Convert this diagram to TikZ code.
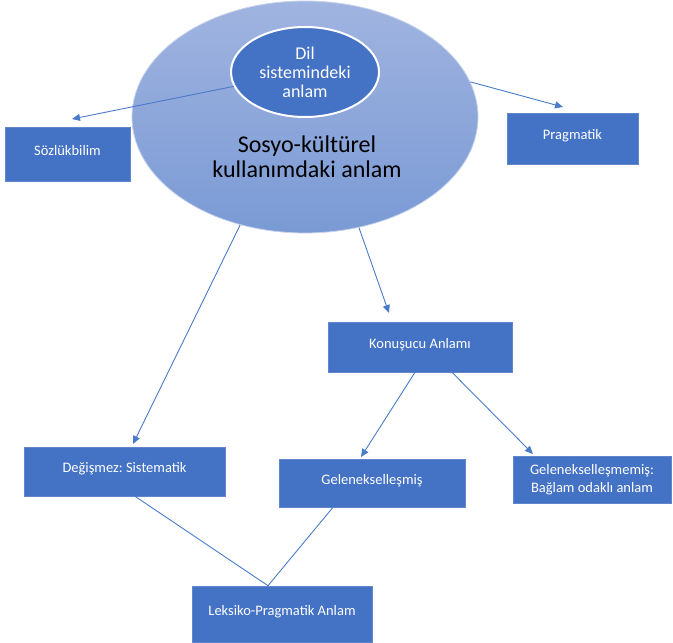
\documentclass[tikz,border=0pt]{standalone}
\usepackage{fontspec}
\setmainfont{Carlito}
\frenchspacing
\usetikzlibrary{shapes.geometric,arrows.meta}
\definecolor{obox}{HTML}{4472C4}
\definecolor{oline}{HTML}{4A7BC8}
\definecolor{etop}{HTML}{A0B4E0}
\definecolor{ebot}{HTML}{7A9AD5}
\begin{document}
\begin{tikzpicture}[x=1pt,y=-1pt,
  box/.style={rectangle, fill=obox, draw=obox!85!white, line width=0.6pt, text=white,
    font=\fontsize{14.5}{18}\selectfont, inner sep=0pt, align=center},
  oneline/.style={text height=11pt, text depth=9pt},
  arr/.style={draw=oline, line width=0.9pt, -{Triangle[length=8pt,width=7pt]}},
  ln/.style={draw=oline, line width=0.9pt}]
\useasboundingbox (0,0) rectangle (673,643);
% big ellipse
\node[ellipse, minimum width=346pt, minimum height=232pt, inner sep=0pt,
  top color=etop, bottom color=ebot, draw=etop!60!white, line width=0.8pt] (big) at (305,117) {};
\node[font=\fontsize{24}{25}\selectfont, align=center, inner sep=0pt] (bigt) at (307,157)
  {Sosyo-kültürel\\kullanımdaki anlam};
% small ellipse
\node[ellipse, minimum width=148pt, minimum height=90pt, inner sep=0pt, fill=obox,
  draw=white, line width=2pt, text=white, font=\fontsize{18}{19}\selectfont, align=center]
  (dil) at (305,72) {Dil\\sistemindeki\\anlam};
% boxes
\node[box, oneline, minimum width=125pt, minimum height=54pt] (soz) at (67.5,154) {Sözlükbilim};
\node[box, oneline, minimum width=131pt, minimum height=51pt] (prag) at (572.5,138.5) {Pragmatik};
\node[box, oneline, minimum width=184pt, minimum height=50pt] (kon) at (420,347) {Konuşucu Anlamı};
\node[box, oneline, minimum width=201pt, minimum height=49pt] (deg) at (124.5,471.5) {Değişmez: Sistematik};
\node[box, oneline, minimum width=186pt, minimum height=48pt] (gel) at (372,483) {Gelenekselleşmiş};
\node[box, minimum width=158pt, minimum height=47pt] (gmm) at (592,479.5) {Gelenekselleşmemiş:\\Bağlam odaklı anlam};
\node[box, oneline, minimum width=180pt, minimum height=56pt] (lek) at (282,614) {Leksiko-Pragmatik Anlam};
% arrow tips
\coordinate (tsoz) at (72,119);
\coordinate (tprag) at (563,107);
\coordinate (tkon) at (389,313);
\coordinate (tdeg) at (133,444);
\coordinate (tgel) at (361,457);
\coordinate (tgmm) at (533,454);
% connectors
\draw[arr] (dil) -- (tsoz);
\draw[arr] (big.12) -- (tprag);
\draw[arr] (big.-64) -- (tkon);
\draw[arr] (big.-121) -- (tdeg);
\draw[arr] ([xshift=-5pt]kon.south) -- (tgel);
\draw[arr] ([xshift=32pt]kon.south) -- (tgmm);
\draw[ln] ([xshift=10.5pt]deg.south) -- ([xshift=-14pt]lek.north);
\draw[ln] ([xshift=-39pt]gel.south) -- ([xshift=-14pt]lek.north);
\end{tikzpicture}
\end{document}
